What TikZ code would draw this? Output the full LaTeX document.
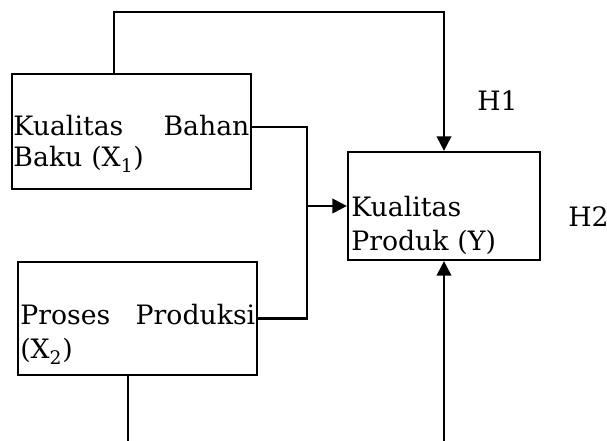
\documentclass[tikz,border=0pt]{standalone}
\usepackage{fontspec}
\setmainfont{DejaVu Serif}
\usetikzlibrary{arrows.meta}
\begin{document}
\begin{tikzpicture}[
    kotak/.style={draw, line width=1.6pt, inner sep=0pt},
    isi/.style={inner sep=0pt, anchor=base west, align=left,
                font=\fontsize{19}{24}\selectfont},
    garis/.style={line width=1.6pt},
    panah/.style={garis, -{Triangle[length=0.36cm,width=0.36cm]}}]
  \useasboundingbox (0,0) rectangle (15.175,11.025);
  % Boxes
  \node[kotak, minimum width=5.975cm, minimum height=2.875cm] (kbb) at (3.2875,7.7375) {};
  \node[kotak, minimum width=5.975cm, minimum height=2.825cm] (pp) at (3.4375,3.0625) {};
  \node[kotak, minimum width=4.8cm, minimum height=2.7cm] (kp) at (11.1,5.875) {};
  % Box texts
  \node[isi, text width=5.9cm, font=\fontsize{19}{22}\selectfont] (tkbb) at (0.33,7.625)
        {Kualitas\hfill Bahan\\Baku (X\textsubscript{1})};
  \node[isi, text width=5.875cm] (tpp) at (0.5,2.9)
        {Proses\hfill Produksi\\(X\textsubscript{2})};
  \node[isi, text width=4.6cm] (tkp) at (8.775,5.6)
        {Kualitas\\Produk (Y)};
  % Hypothesis labels
  \node[isi] (h1) at (11.925,8.25) {H1};
  \node[isi] (h2) at (14.2,5.35) {H2};
  % Connectors
  \coordinate (gabung) at (7.675,5.875);
  \coordinate (bawah) at (kp.south |- 0,0);
  \draw[panah] ([xshift=-0.4375cm]kbb.north) -- ++(0,1.5125) -| (kp.north);
  \draw[garis] ([yshift=0.11cm]kbb.east) -| (gabung);
  \draw[garis] (pp.east) -| (gabung);
  \draw[panah] (gabung) -- (kp.west);
  \draw[garis] ([xshift=-0.24cm]pp.south) -- ++(0,-1.65);
  \draw[panah] (bawah) -- (kp.south);
\end{tikzpicture}
\end{document}
